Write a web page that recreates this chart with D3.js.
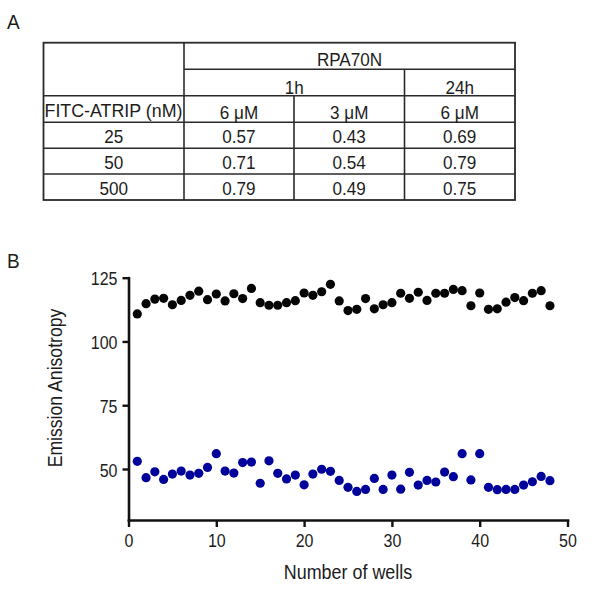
<!DOCTYPE html>
<html>
<head>
<meta charset="utf-8">
<script src="https://cdn.jsdelivr.net/npm/d3@7/dist/d3.min.js"></script>
<style>
  body { margin: 0; background: #fff; }
  svg { display: block; }
  text { font-family: "Liberation Sans", Arial, Helvetica, sans-serif; fill: #1c1c1c; }
</style>
</head>
<body>
<svg id="chart" width="601" height="591"></svg>
<script>
// ---------- Panel A: table data ----------
const tableTitle = "RPA70N";
const timeHeaders = ["1h", "24h"];
const timeSpans = [2, 1];
const rowHeader = "FITC-ATRIP (nM)";
const concHeaders = ["6 \u03bcM", "3 \u03bcM", "6 \u03bcM"];
const atripConc = ["25", "50", "500"];
const h1_6uM = ["0.57", "0.71", "0.79"];
const h1_3uM = ["0.43", "0.54", "0.49"];
const h24_6uM = ["0.69", "0.79", "0.75"];

// ---------- Panel B: scatter data ----------
const wells = [1,2,3,4,5,6,7,8,9,10,11,12,13,14,15,16,17,18,19,20,21,22,23,24,
               25,26,27,28,29,30,31,32,33,34,35,36,37,38,39,40,41,42,43,44,45,46,47,48];
const boundSeries = [110.8,114.8,116.6,116.9,114.4,116.1,118.1,119.7,116.4,118.6,115.9,118.7,
                     116.8,120.8,115.2,114.2,114.2,115.2,116.0,119.0,118.1,119.5,122.4,115.9,
                     112.1,112.6,116.8,112.8,114.4,115.2,118.9,116.9,119.3,116.1,118.9,118.9,
                     120.4,119.9,114.0,119.0,112.6,112.8,115.4,117.2,116.0,118.9,119.9,114.0];
const freeSeries = [53.0,46.6,48.9,45.9,48.0,49.2,47.6,48.3,50.6,56.0,49.2,48.4,
                    52.5,52.7,44.4,53.2,48.3,46.1,47.6,43.8,48.0,49.9,49.1,45.5,
                    42.8,41.2,42.0,46.3,42.0,47.6,42.1,48.7,43.7,45.5,44.9,48.8,
                    47.0,56.0,45.7,56.0,42.8,41.9,42.0,42.0,43.7,45.0,47.1,45.4];
const xTicks = [0, 10, 20, 30, 40, 50];
const yTicks = [50, 75, 100, 125];
const xLabel = "Number of wells";
const yLabel = "Emission Anisotropy";

const svg = d3.select("#chart");

// helper: horizontally condensed text
function ctext(parent, txt, x, y, size, sx, anchor, rot) {
  const t = parent.append("text")
    .attr("transform", `translate(${x},${y})` + (rot ? ` rotate(${rot})` : "") + ` scale(${sx},1)`)
    .attr("font-size", size).attr("text-anchor", anchor || "middle").text(txt);
  return t;
}

// Panel letters
ctext(svg, "A", 7, 29, 20, 0.95, "start");
ctext(svg, "B", 7, 268, 20, 0.95, "start");

// ---------- Table ----------
const colX = [43.5, 184, 294, 404.5, 515];
const rowY = [42.7, 69.3, 95.7, 122.3, 148.3, 174, 200];
const tbl = svg.append("g");
const lineColor = "#2a2a2a";
function hline(y, x1, x2) {
  tbl.append("line").attr("x1", x1).attr("x2", x2).attr("y1", y).attr("y2", y)
    .attr("stroke", lineColor).attr("stroke-width", 1.6);
}
function vline(x, y1, y2) {
  tbl.append("line").attr("x1", x).attr("x2", x).attr("y1", y1).attr("y2", y2)
    .attr("stroke", lineColor).attr("stroke-width", 1.6);
}
tbl.append("rect").attr("x", colX[0]).attr("y", rowY[0])
  .attr("width", colX[4] - colX[0]).attr("height", rowY[6] - rowY[0])
  .attr("fill", "none").attr("stroke", lineColor).attr("stroke-width", 1.8);
hline(rowY[1], colX[1], colX[4]);
for (let r = 2; r <= 5; r++) hline(rowY[r], colX[0], colX[4]);
vline(colX[1], rowY[0], rowY[6]);
vline(colX[2], rowY[2], rowY[6]);
vline(colX[3], rowY[1], rowY[6]);

const fs = 19, sx = 0.9;
function cellText(txt, x1, x2, baseline) {
  ctext(tbl, txt, (x1 + x2) / 2, baseline, fs, sx, "middle");
}
cellText(tableTitle, colX[1], colX[4], 65.5);
let ci = 1;
timeHeaders.forEach((t, i) => {
  cellText(t, colX[ci], colX[ci + timeSpans[i]], 94);
  ci += timeSpans[i];
});
tbl.append("text").attr("x", colX[0] + 1).attr("y", 117)
  .attr("font-size", fs).attr("textLength", colX[1] - colX[0] - 2.5)
  .attr("lengthAdjust", "spacingAndGlyphs").text(rowHeader);
concHeaders.forEach((c, i) => cellText(c, colX[i + 1], colX[i + 2], 119));
const cols = [atripConc, h1_6uM, h1_3uM, h24_6uM];
atripConc.forEach((_, r) => {
  cols.forEach((col, c) => {
    cellText(col[r], colX[c], colX[c + 1], rowY[r + 4] - 5.5);
  });
});

// ---------- Scatter ----------
const x = d3.scaleLinear().domain([0, 50]).range([128.5, 567.5]);
const y = d3.scaleLinear().domain([30, 125]).range([520, 277.7]);

const xAxis = svg.append("g").attr("transform", "translate(0,520)")
  .call(d3.axisBottom(x).tickValues(xTicks).tickSize(7).tickSizeOuter(0));
const yAxis = svg.append("g").attr("transform", "translate(128.5,0)")
  .call(d3.axisLeft(y).tickValues(yTicks).tickSize(6).tickSizeOuter(0));

[xAxis, yAxis].forEach(a => {
  a.select(".domain").attr("stroke", "#111").attr("stroke-width", 2.6).attr("stroke-linecap", "square");
  a.selectAll(".tick line").attr("stroke", "#111").attr("stroke-width", 2.4);
  a.selectAll(".tick text").attr("font-size", 18)
    .attr("font-family", "'Liberation Sans', Arial, sans-serif").attr("fill", "#1c1c1c");
});
xAxis.selectAll(".tick text").attr("x", null).attr("y", null).attr("dy", null)
  .attr("transform", "translate(0,27) scale(0.89,1)");
yAxis.selectAll(".tick text").attr("x", null).attr("dy", "0.34em")
  .attr("transform", "translate(-11,1) scale(0.89,1)");

ctext(svg, xLabel, 348, 579, 19.5, 0.92, "middle");
ctext(svg, yLabel, 62, 388, 19.5, 0.905, "middle", -90);

const dots = svg.append("g");
dots.selectAll("circle.bound").data(wells).enter().append("circle")
  .attr("class", "bound")
  .attr("cx", d => x(d)).attr("cy", (d, i) => y(boundSeries[i]))
  .attr("r", 4.6).attr("fill", "#050505");
dots.selectAll("circle.free").data(wells).enter().append("circle")
  .attr("class", "free")
  .attr("cx", d => x(d)).attr("cy", (d, i) => y(freeSeries[i]))
  .attr("r", 4.6).attr("fill", "#00009a");
</script>
</body>
</html>
